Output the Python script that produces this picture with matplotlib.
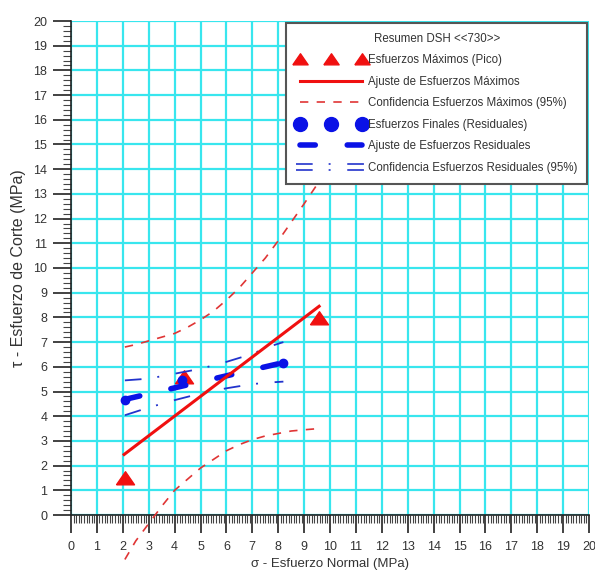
import matplotlib
matplotlib.use('Agg')
from matplotlib import pyplot as plt
from matplotlib.lines import Line2D
from matplotlib.legend_handler import HandlerBase
from matplotlib.ticker import MultipleLocator

plt.rcParams['font.family'] = ['Liberation Sans', 'DejaVu Sans']
plt.rcParams['lines.scale_dashes'] = False

# peak stresses (Pico)
peak_x = [2.08, 4.36, 9.58]
peak_y = [1.5, 5.6, 7.96]
fit_peak_x = [2.05, 9.58]
fit_peak_y = [2.45, 8.45]
conf_x = [2.08, 2.5, 3.0, 3.5, 4.0, 4.5, 5.0, 5.5, 6.0, 6.5, 7.0, 7.5, 8.0, 8.5, 9.0, 9.58]
conf_peak_up = [6.8, 6.9, 7.05, 7.2, 7.35, 7.6, 7.9, 8.25, 8.7, 9.2, 9.8, 10.4, 11.1, 11.85, 12.6, 13.5]
conf_peak_lo = [-1.8, -1.05, -0.35, 0.35, 1.0, 1.45, 1.9, 2.25, 2.6, 2.85, 3.05, 3.2, 3.3, 3.4, 3.45, 3.5]

# residual stresses
res_x = [2.08, 4.29, 8.2]
res_y = [4.65, 5.45, 6.14]
fit_res_x = [2.08, 8.2]
fit_res_y = [4.68, 6.17]
conf_res_x = [2.08, 3.0, 4.0, 5.0, 6.0, 7.0, 7.6, 8.2]
conf_res_up = [5.45, 5.52, 5.72, 5.92, 6.2, 6.52, 6.8, 7.0]
conf_res_lo = [4.04, 4.35, 4.65, 4.92, 5.13, 5.3, 5.36, 5.4]

labels = ['Esfuerzos Máximos (Pico)', 'Ajuste de Esfuerzos Máximos',
          'Confidencia Esfuerzos Máximos (95%)', 'Esfuerzos Finales (Residuales)',
          'Ajuste de Esfuerzos Residuales', 'Confidencia Esfuerzos Residuales (95%)']

red = '#f01010'
red_d = '#e03535'
blue = '#0a12e6'
blue_c = '#2233cc'
grid_c = '#38e6ee'
txt = '#333333'

tri = [(-1, -0.7), (1, -0.7), (0, 0.75), (-1, -0.7)]
conf_red_dash = (6, 6)
fit_blue_dash = (11, 23)
conf_blue_dash = (12, 11.5, 1.4, 12)


class HandlerDoubleLine(HandlerBase):
    def create_artists(self, legend, orig_handle, xdescent, ydescent,
                       width, height, fontsize, trans):
        arts = []
        yc = -ydescent + height / 2
        for dy in (-2.3, 2.3):
            ln = Line2D([-xdescent, -xdescent + width], [yc + dy, yc + dy])
            ln.update_from(orig_handle)
            ln.set_transform(trans)
            arts.append(ln)
        return arts


fig = plt.figure(figsize=(5.95, 5.74), dpi=100)
ax = fig.add_axes([71 / 595, 59 / 574, 518 / 595, 494 / 574])

ax.plot(conf_x, conf_peak_up, color=red_d, lw=1.2, dashes=conf_red_dash, clip_on=False, zorder=3)
ax.plot(conf_x, conf_peak_lo, color=red_d, lw=1.2, dashes=conf_red_dash, clip_on=False, zorder=3)
ax.plot(peak_x, peak_y, ls='none', marker=tri, ms=13, color=red, zorder=4)
ax.plot(res_x, res_y, ls='none', marker='o', ms=6, color=blue, zorder=4)
ax.plot(fit_res_x, fit_res_y, color=blue, lw=4, dashes=fit_blue_dash,
        dash_capstyle='round', zorder=4)
ax.plot(conf_res_x, conf_res_up, color=blue_c, lw=1.3, dashes=conf_blue_dash, zorder=5)
ax.plot(conf_res_x, conf_res_lo, color=blue_c, lw=1.3, dashes=conf_blue_dash, zorder=5)
ax.plot(fit_peak_x, fit_peak_y, color=red, lw=2.2, zorder=5)

ax.set_xlim(0, 20)
ax.set_ylim(0, 20)
ax.set_xticks(range(21))
ax.set_yticks(range(21))
ax.xaxis.set_minor_locator(MultipleLocator(0.1))
ax.yaxis.set_minor_locator(MultipleLocator(0.2))
ax.grid(True, which='major', color=grid_c, lw=1.6)
ax.set_axisbelow(True)
for s in ['top', 'right']:
    ax.spines[s].set_visible(False)
for s in ['left', 'bottom']:
    ax.spines[s].set_color('#222222')
    ax.spines[s].set_linewidth(1.2)
ax.tick_params(which='major', length=13, width=1.3, color='#333333',
               labelsize=9, labelcolor=txt)
ax.tick_params(which='minor', length=6, width=0.8, color='#444444')
ax.tick_params(axis='x', which='major', pad=6)
ax.tick_params(axis='y', which='major', pad=4)

ax.set_xlabel('σ - Esfuerzo Normal (MPa)', fontsize=9.5, color=txt, labelpad=3)
ax.set_ylabel('τ - Esfuerzo de Corte (MPa)', fontsize=11.5, color=txt, labelpad=5)

handles = [
    Line2D([], [], ls='none', marker=tri, ms=11, color=red),
    Line2D([], [], color=red, lw=2.2),
    Line2D([], [], color=red_d, lw=1.2, dashes=conf_red_dash),
    Line2D([], [], ls='none', marker='o', ms=10, color=blue),
    Line2D([], [], color=blue, lw=4, dashes=fit_blue_dash, dash_capstyle='round'),
    Line2D([], [], color=blue_c, lw=1.2, dashes=conf_blue_dash),
]
leg = ax.legend(handles, labels, title='Resumen DSH <<730>>', loc='upper right',
                bbox_to_anchor=(1.0, 1.0), borderaxespad=0.15, fontsize=8.3,
                title_fontsize=8.3, numpoints=3, handlelength=6.0, handletextpad=0.25,
                labelspacing=0.83, borderpad=0.85, fancybox=False, framealpha=1,
                edgecolor='#555555', handler_map={handles[5]: HandlerDoubleLine()})
leg.get_frame().set_linewidth(1.5)
leg.set_zorder(10)
for t in leg.get_texts():
    t.set_color(txt)
leg.get_title().set_color(txt)

fig.savefig('out.png', dpi=100)
